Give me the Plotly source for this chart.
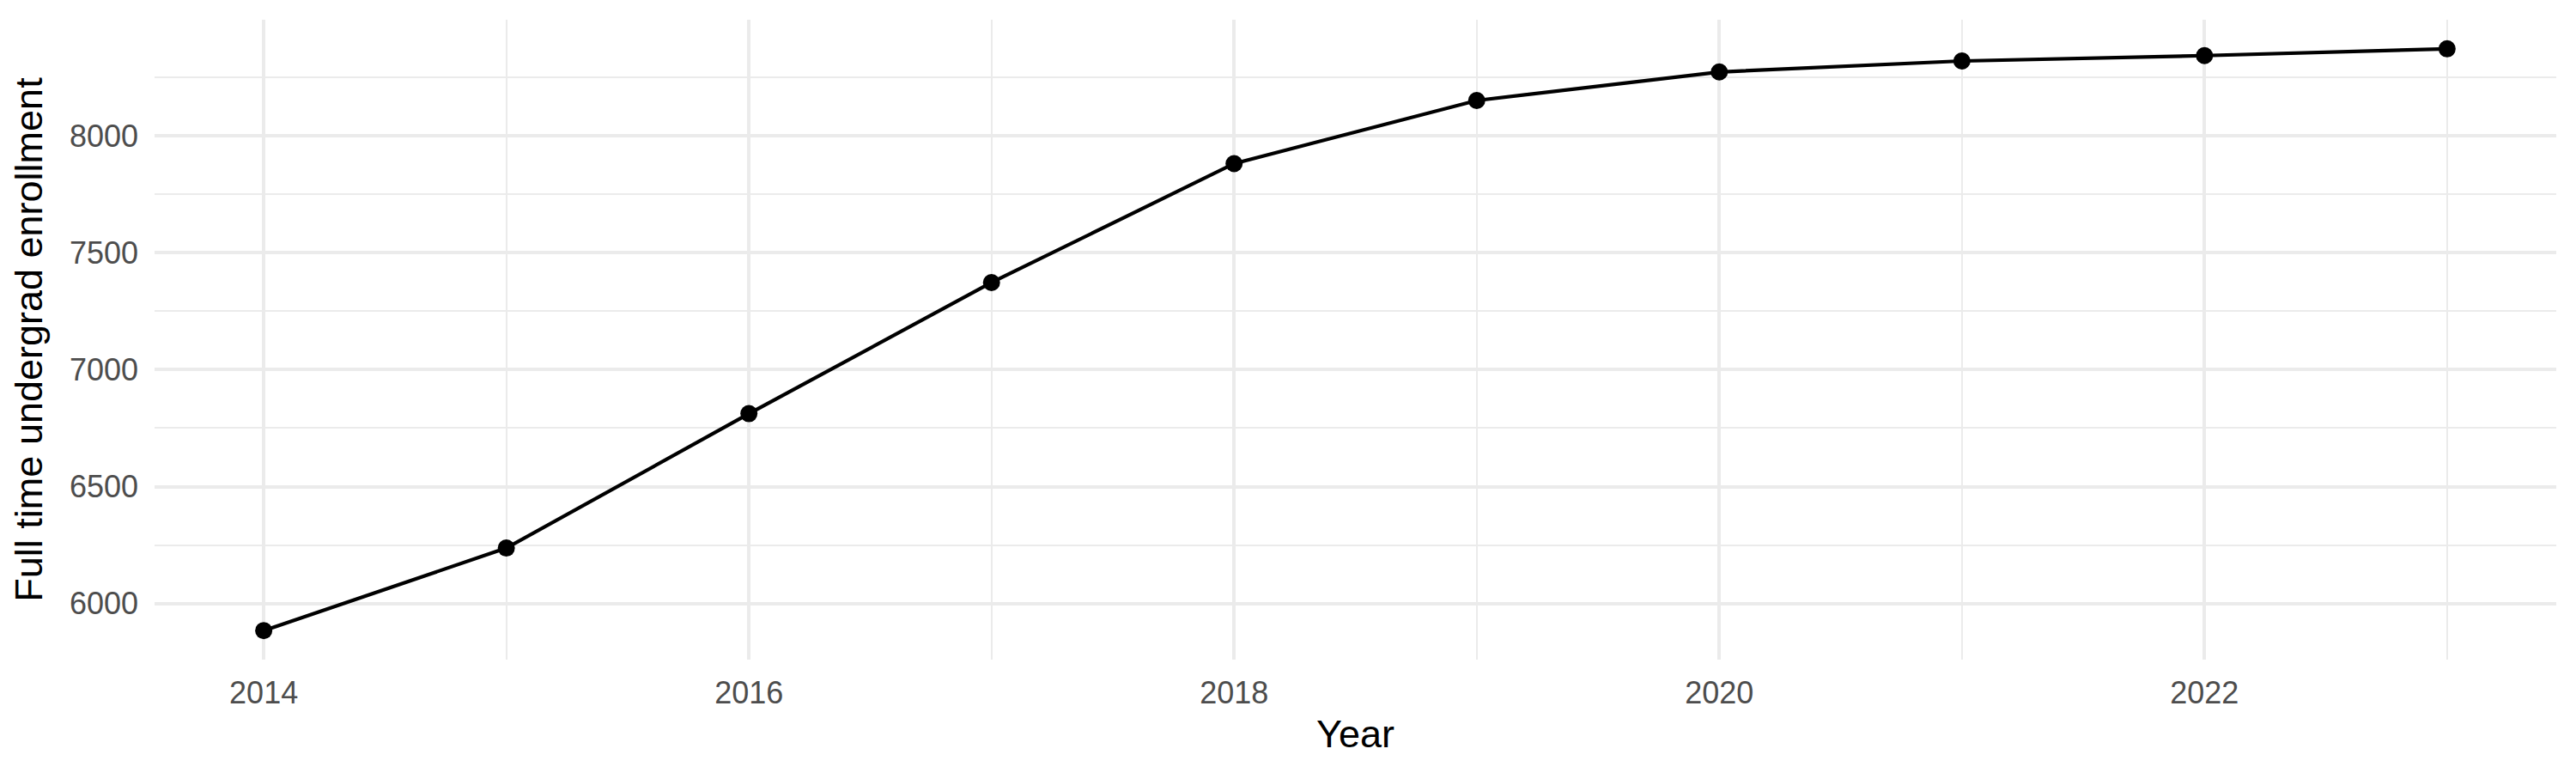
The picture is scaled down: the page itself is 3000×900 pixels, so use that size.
import plotly.graph_objects as go

# enrollment by year
years = [2014, 2015, 2016, 2017, 2018, 2019, 2020, 2021, 2022, 2023]
enrollment = [5884, 6237, 6812, 7373, 7882, 8152, 8274, 8321, 8344, 8373]

x_title = 'Year'
y_title = 'Full time undergrad enrollment'

# ggplot-style 5% padding around the data
xpad = 0.45
ypad = (max(enrollment) - min(enrollment)) * 0.05

grid = '#EBEBEB'
font = 'Liberation Sans, Arial, sans-serif'

fig = go.Figure()
fig.add_trace(go.Scatter(
    x=years, y=enrollment,
    mode='lines+markers',
    line=dict(color='black', width=4.2),
    marker=dict(color='black', size=20),
    showlegend=False,
))

# page body has an 8px margin, so size/margins are trimmed to compensate
fig.update_layout(
    width=2992, height=892,
    margin=dict(l=172, r=23, t=15, b=132),
    plot_bgcolor='white', paper_bgcolor='white',
    font=dict(family=font, color='black'),
)
fig.update_xaxes(
    range=[min(years) - xpad, max(years) + xpad],
    tick0=2014, dtick=2,
    showgrid=True, gridcolor=grid, gridwidth=4,
    minor=dict(dtick=1, showgrid=True, gridcolor=grid, gridwidth=2),
    zeroline=False, showline=False,
    tickfont=dict(size=36, color='#4D4D4D'),
    ticklabelstandoff=14,
    title=dict(text=x_title, font=dict(size=45, color='black'), standoff=12),
    automargin=False,
)
fig.update_yaxes(
    range=[min(enrollment) - ypad, max(enrollment) + ypad],
    tick0=6000, dtick=500,
    showgrid=True, gridcolor=grid, gridwidth=4,
    minor=dict(dtick=250, showgrid=True, gridcolor=grid, gridwidth=2),
    zeroline=False, showline=False,
    tickfont=dict(size=36, color='#4D4D4D'),
    ticklabelstandoff=18,
    title=dict(text=y_title, font=dict(size=45, color='black'), standoff=18),
    automargin=False,
)

fig.write_html('out.html')
